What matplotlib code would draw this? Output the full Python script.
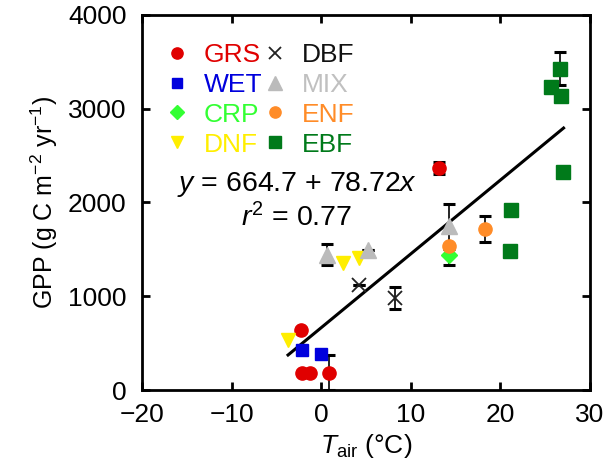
import numpy as np
import matplotlib
matplotlib.use('Agg')
import matplotlib.pyplot as plt

plt.rcParams['font.family'] = ['Liberation Sans', 'DejaVu Sans']
plt.rcParams['mathtext.fontset'] = 'custom'
plt.rcParams['mathtext.rm'] = 'Liberation Sans'
plt.rcParams['mathtext.it'] = 'Liberation Sans:italic'

# data: (Tair, GPP, error)
grs_x = [-2.2, -2.1, -1.2, 0.9, 13.1]
grs_y = [641, 185, 178, 185, 2369]
grs_e = [0, 0, 0, 190, 60]

wet_x = [-2.1, 0.0]
wet_y = [427, 381]

crp_x = [14.3]
crp_y = [1442]
crp_e = [105]

dnf_x = [-3.7, 2.4, 4.2]
dnf_y = [534, 1353, 1407]

dbf_x = [4.25, 8.2]
dbf_y = [1122, 980]
dbf_e = [0, 120]

mix_x = [0.6, 5.2, 14.25]
mix_y = [1442, 1488, 1745]
mix_e = [110, 0, 240]

enf_x = [14.3, 18.25]
enf_y = [1538, 1717]
enf_e = [0, 135]

ebf_x = [26.6, 25.6, 26.8, 26.95, 21.2, 21.05]
ebf_y = [3426, 3234, 3141, 2322, 1923, 1478]
ebf_e = [175, 0, 0, 0, 0, 40]

# regression
intercept, slope = 664.7, 78.72
fit_x = np.array([-3.7, 27.05])

fig = plt.figure(figsize=(6.06, 4.74), dpi=100)
ax = fig.add_axes([0.2343, 0.1772, 0.7393, 0.7912])

def errs(x, y, e):
    ax.errorbar(x, y, yerr=e, fmt='none', ecolor='black', elinewidth=1.2,
                capsize=4, capthick=2.2, zorder=2)

errs(grs_x, grs_y, grs_e)
errs(crp_x, crp_y, crp_e)
errs(dbf_x, dbf_y, dbf_e)
errs(mix_x, mix_y, mix_e)
errs(enf_x, enf_y, enf_e)
errs(ebf_x, ebf_y, ebf_e)

ax.plot(fit_x, intercept + slope * fit_x, color='black', lw=2.2, zorder=3)

ms = 9.5
ax.plot(grs_x, grs_y, 'o', color='#e00000', ms=ms, ls='none', label='GRS', zorder=4)
ax.plot(wet_x, wet_y, 's', color='#0000dd', ms=ms - 0.5, ls='none', label='WET', zorder=4)
ax.plot(crp_x, crp_y, 'D', color='#33ff33', ms=ms - 1.5, ls='none', label='CRP', zorder=4)
ax.plot(dnf_x, dnf_y, 'v', color='#ffee00', ms=ms + 1, ls='none', label='DNF', zorder=4)
ax.plot(dbf_x, dbf_y, 'x', color='#222222', ms=ms + 1, mew=1.3, ls='none', label='DBF', zorder=4)
ax.plot(mix_x, mix_y, '^', color='#bbbbbb', ms=ms + 2, ls='none', label='MIX', zorder=4)
ax.plot(enf_x, enf_y, 'o', color='#ff8c28', ms=ms, ls='none', label='ENF', zorder=4)
ax.plot(ebf_x, ebf_y, 's', color='#007a1a', ms=ms + 1, ls='none', label='EBF', zorder=4)

leg_colors = ['#e00000', '#0000dd', '#33ff33', '#ffee00',
              '#111111', '#c0c0c0', '#ff8c28', '#007a1a']
leg = ax.legend(ncol=2, loc='upper left', bbox_to_anchor=(0.055, 0.925),
                frameon=False, fontsize=19, handlelength=0.8, borderpad=0,
                borderaxespad=0, handletextpad=0.6, columnspacing=0.1,
                labelspacing=0.22, labelcolor=leg_colors, markerscale=0.85)

ax.text(0.345, 0.547, r'$y$ = 664.7 + 78.72$x$', transform=ax.transAxes,
        ha='center', va='center', fontsize=20.5)
ax.text(0.345, 0.459, r'$r^2$ = 0.77', transform=ax.transAxes,
        ha='center', va='center', fontsize=20.5)

ax.set_xlim(-20, 30)
ax.set_ylim(0, 4000)
ax.set_xticks([-20, -10, 0, 10, 20, 30])
ax.set_xticklabels(['\u221220', '\u221210', '0', '10', '20', '30'])
ax.set_yticks([0, 1000, 2000, 3000, 4000])
ax.tick_params(direction='in', length=6, width=2, labelsize=19,
               top=True, right=True)
ax.tick_params(axis='x', pad=9)
ax.tick_params(axis='y', pad=11)
for s in ax.spines.values():
    s.set_linewidth(2)

ax.set_xlabel(r'$T_{\mathrm{air}}$ ($\degree$C)', fontsize=19, labelpad=4)
ax.set_ylabel(r'GPP (g C m$^{-2}$ yr$^{-1}$)', fontsize=18, labelpad=6)

fig.savefig('out.png', dpi=100)
